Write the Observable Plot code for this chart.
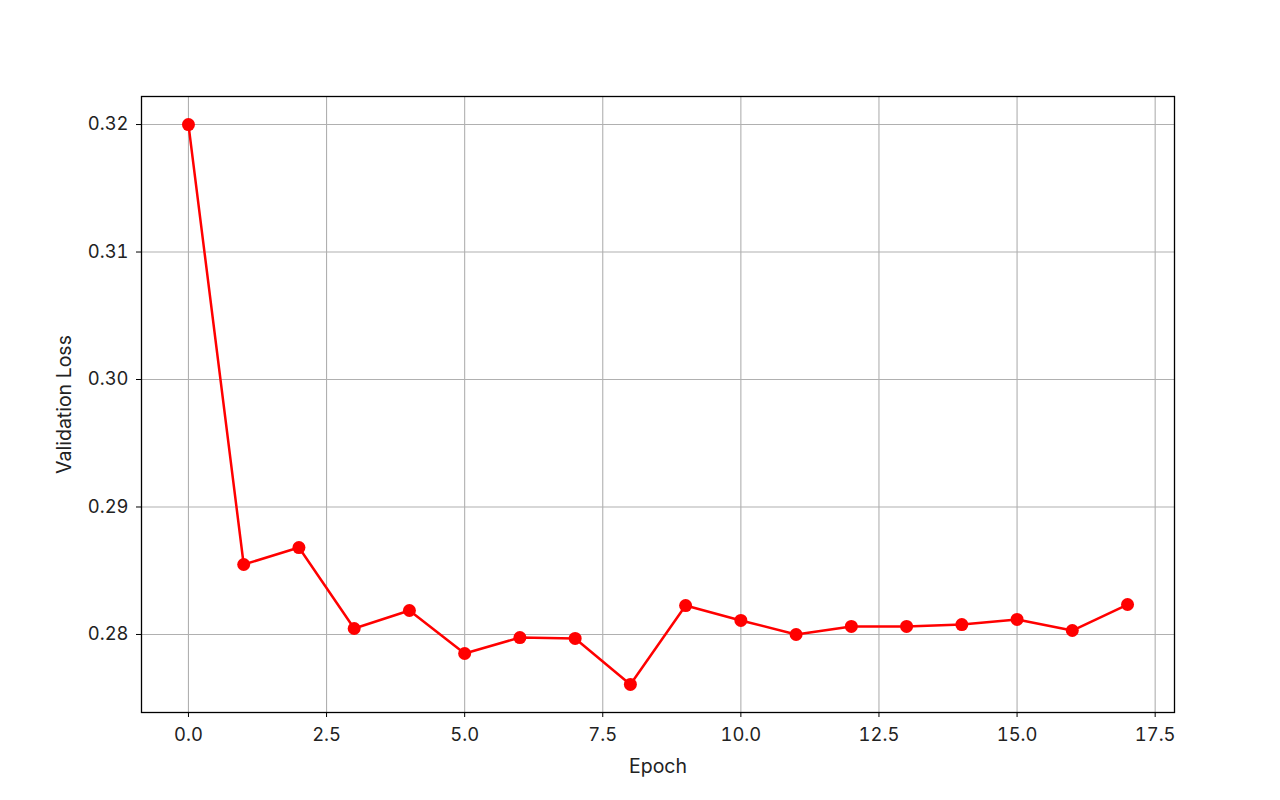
<!DOCTYPE html>
<html><head><meta charset="utf-8">
<script src="https://cdn.jsdelivr.net/npm/d3@7"></script>
<script src="https://cdn.jsdelivr.net/npm/@observablehq/plot@0.6"></script>
<style>body{margin:0;background:#fff}</style>
</head><body><div id="chart"></div>
<script>
const epochs = [0, 1, 2, 3, 4, 5, 6, 7, 8, 9, 10, 11, 12, 13, 14, 15, 16, 17];
const losses = [0.3200, 0.28549, 0.28682, 0.28047, 0.28188, 0.27851, 0.27976, 0.27969, 0.27608,
                0.28227, 0.28110, 0.28000, 0.28063, 0.28063, 0.28078, 0.28118, 0.28031, 0.28235];
const xTicks = [0, 2.5, 5, 7.5, 10, 12.5, 15, 17.5];
const yTicks = [0.28, 0.29, 0.30, 0.31, 0.32];
const xLabel = "Epoch";
const yLabel = "Validation Loss";

const data = epochs.map((e, i) => ({epoch: e, loss: losses[i]}));

const chart = Plot.plot({
  width: 1280, height: 800,
  marginLeft: 141, marginRight: 106, marginTop: 96, marginBottom: 88,
  style: {fontFamily: "Inter, 'Open Sans', sans-serif", fontSize: "18.4px", color: "#222", background: "#fff"},
  x: {domain: [-0.85, 17.85]},
  y: {domain: [0.27388, 0.3222]},
  marks: [
    Plot.gridX(xTicks, {stroke: "#b0b0b0", strokeOpacity: 1, strokeWidth: 1.1}),
    Plot.gridY(yTicks, {stroke: "#b0b0b0", strokeOpacity: 1, strokeWidth: 1.1}),
    Plot.line(data, {x: "epoch", y: "loss", stroke: "#ff0000", strokeWidth: 2.5}),
    Plot.dot(data, {x: "epoch", y: "loss", r: 6.5, fill: "#ff0000", stroke: "none"}),
    Plot.frame({stroke: "#000", strokeWidth: 1.3}),
    Plot.axisX(xTicks, {tickFormat: d => d.toFixed(1), tickSize: 5, tickPadding: 10, label: null, stroke: "#000"}),
    Plot.axisY(yTicks, {tickFormat: d => d.toFixed(2), tickSize: 5, tickPadding: 8, label: null, stroke: "#000"}),
    Plot.text([xLabel], {text: d => d, frameAnchor: "bottom", textAnchor: "middle", dy: 60, fontSize: 19.5, fill: "#222"}),
    Plot.text([yLabel], {text: d => d, frameAnchor: "left", textAnchor: "middle", lineAnchor: "middle", dx: -77, rotate: -90, fontSize: 19.5, fill: "#222"})
  ]
});
document.getElementById("chart").appendChild(chart);
</script>
</body></html>
